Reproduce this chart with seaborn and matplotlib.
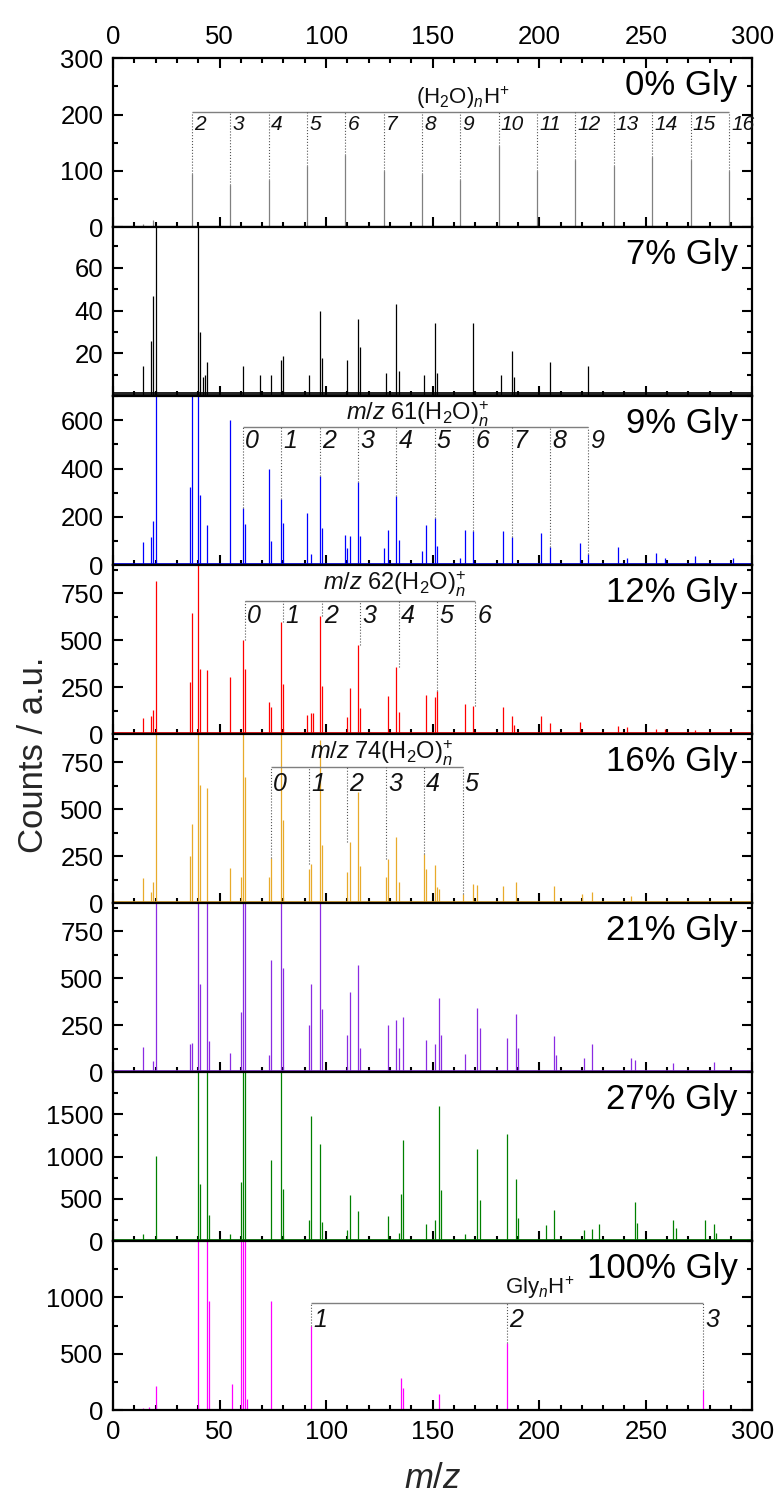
import matplotlib
matplotlib.use("Agg")
import matplotlib.pyplot as plt
import seaborn as sns
from matplotlib.ticker import MultipleLocator

sns.set_theme(style="ticks")
plt.rcParams['font.family'] = ['Liberation Sans', 'DejaVu Sans']
plt.rcParams['mathtext.fontset'] = 'custom'
plt.rcParams['mathtext.rm'] = 'Liberation Sans'
plt.rcParams['mathtext.it'] = 'Liberation Sans:italic'
plt.rcParams['mathtext.bf'] = 'Liberation Sans:bold'

# peak lists (m/z, counts)
gly0_mz = [14, 19, 37, 55, 73, 91, 109, 127, 145, 163, 181, 199, 217, 235, 253, 271, 289]
gly0_counts = [5, 13, 95, 75, 84, 108, 129, 99, 95, 83, 145, 99, 120, 109, 125, 120, 99]

gly7_mz = [14, 18, 19, 20, 40, 41, 42, 43, 44, 61, 69, 74, 79, 80, 92, 97, 98, 110, 115, 116,
           128, 133, 134, 146, 151, 152, 169, 182, 187, 188, 205, 223]
gly7_counts = [14, 26, 47, 85, 85, 30, 9, 10, 16, 14, 10, 10, 17, 19, 10, 40, 18, 17, 36, 23,
               11, 43, 12, 10, 34, 11, 34, 10, 21, 9, 16, 14]

gly9_mz = [14, 18, 19, 20, 36, 37, 40, 41, 44, 55, 61, 62, 73, 74, 79, 80, 91, 93, 97, 98,
           109, 110, 111, 115, 116, 127, 129, 133, 134, 145, 147, 151, 152, 163, 165, 169,
           183, 187, 201, 205, 219, 223, 237, 241, 255, 259, 273, 291]
gly9_counts = [95, 115, 185, 760, 325, 720, 720, 290, 165, 600, 235, 170, 400, 100, 275, 175,
               215, 45, 370, 155, 125, 70, 120, 345, 120, 72, 145, 285, 105, 60, 165, 195, 80,
               30, 145, 140, 140, 115, 135, 75, 93, 45, 76, 30, 50, 30, 40, 30]

gly12_mz = [14, 18, 19, 20, 36, 37, 40, 41, 44, 55, 61, 62, 73, 74, 79, 80, 91, 93, 94, 97, 98,
            110, 111, 115, 116, 129, 133, 134, 147, 151, 152, 165, 169, 183, 187, 188, 201, 205,
            219, 237, 241, 255, 259, 273]
gly12_counts = [84, 96, 128, 815, 280, 646, 950, 345, 340, 302, 503, 346, 170, 143, 598, 268,
                100, 115, 115, 628, 254, 93, 245, 473, 137, 203, 360, 120, 209, 200, 230, 159,
                150, 143, 98, 50, 98, 57, 66, 43, 40, 30, 30, 20]

gly16_mz = [14, 18, 19, 20, 36, 37, 40, 41, 44, 55, 60, 61, 62, 73, 74, 79, 80, 92, 93, 97, 98,
            110, 111, 115, 116, 128, 129, 133, 134, 146, 147, 151, 152, 153, 164, 169, 171, 183,
            189, 207, 220, 225, 243]
gly16_counts = [132, 60, 110, 950, 253, 423, 950, 630, 614, 186, 137, 950, 673, 137, 241, 950,
                441, 182, 209, 870, 307, 164, 325, 593, 200, 137, 236, 352, 110, 262, 180, 204,
                84, 75, 48, 100, 96, 89, 110, 92, 48, 57, 40]

gly21_mz = [14, 19, 20, 36, 37, 40, 41, 44, 45, 55, 60, 61, 62, 73, 74, 79, 80, 92, 93, 97, 98,
            110, 111, 115, 116, 129, 133, 134, 136, 147, 151, 153, 154, 165, 171, 172, 185, 189,
            190, 207, 208, 221, 225, 243, 245, 263, 282]
gly21_counts = [132, 60, 950, 150, 155, 950, 468, 950, 164, 102, 321, 950, 950, 89, 598, 950,
                557, 253, 468, 950, 334, 200, 427, 571, 130, 250, 280, 130, 296, 173, 150, 393,
                200, 96, 343, 236, 179, 312, 130, 191, 90, 75, 152, 75, 66, 50, 52]

gly27_mz = [14, 20, 40, 41, 44, 45, 55, 60, 61, 62, 74, 79, 80, 92, 93, 97, 98, 110, 111, 115,
            129, 134, 135, 136, 147, 151, 153, 154, 165, 171, 172, 185, 189, 190, 203, 207, 221,
            225, 228, 245, 246, 263, 264, 278, 282, 283, 300]
gly27_counts = [87, 1010, 2100, 680, 2100, 305, 87, 700, 2100, 2100, 960, 2100, 620, 246, 1476,
                1151, 226, 130, 540, 353, 294, 100, 563, 1198, 198, 246, 1595, 603, 87, 1091,
                484, 1270, 738, 270, 186, 373, 127, 147, 198, 464, 210, 246, 150, 246, 198, 100, 87]

gly100_mz = [14, 17, 20, 40, 44, 45, 56, 60, 61, 62, 63, 74, 93, 135, 136, 153, 185, 277]
gly100_counts = [15, 30, 217, 1600, 1600, 967, 230, 1600, 1600, 1600, 100, 970, 745, 283, 195,
                 146, 595, 175]

labels = ['0% Gly', '7% Gly', '9% Gly', '12% Gly', '16% Gly', '21% Gly', '27% Gly', '100% Gly']
colors = ['#808080', '#000000', '#0000FF', '#FF0000', '#E8AA2A', '#8A2BE2', '#008000', '#FF00FF']
noise = [2, 2.2, 9, 11, 11, 11, 20, 9]
ylims = [300, 79, 700, 900, 900, 900, 2000, 1500]
yticks = [[0, 100, 200, 300], [20, 40, 60], [0, 200, 400, 600], [0, 250, 500, 750],
          [0, 250, 500, 750], [0, 250, 500, 750], [0, 500, 1000, 1500], [0, 500, 1000]]
yminor = [50, 10, 100, 125, 125, 125, 250, 250]

spectra = [(gly0_mz, gly0_counts), (gly7_mz, gly7_counts), (gly9_mz, gly9_counts),
           (gly12_mz, gly12_counts), (gly16_mz, gly16_counts), (gly21_mz, gly21_counts),
           (gly27_mz, gly27_counts), (gly100_mz, gly100_counts)]

# cluster series markers: panel index -> positions, numbers, bar y, number y, title, title xy
water_pos = [37, 55, 73, 91, 109, 127, 145, 163, 181, 199, 217, 235, 253, 271, 289]
water_n = list(range(2, 17))
s61_pos = [61, 79, 97, 115, 133, 151, 169, 187, 205, 223]
s62_pos = [62, 80, 98, 116, 134, 152, 170]
s74_pos = [74, 92, 110, 128, 146, 164]
glyn_pos = [93, 185, 277]

series = {
    0: dict(pos=water_pos, n=water_n, bar=205, num=183, fs=15, tfs=16,
            title=r'(H$_2$O)$_{\mathit{n}}$H$^{+}$', tx=164, ty=230),
    2: dict(pos=s61_pos, n=list(range(10)), bar=572, num=516, fs=18, tfs=17,
            title=r'$\mathit{m/z}$ 61(H$_2$O)$_{\mathit{n}}^{+}$', tx=143, ty=625),
    3: dict(pos=s62_pos, n=list(range(7)), bar=709, num=628, fs=18, tfs=17,
            title=r'$\mathit{m/z}$ 62(H$_2$O)$_{\mathit{n}}^{+}$', tx=132, ty=800),
    4: dict(pos=s74_pos, n=list(range(6)), bar=723, num=637, fs=18, tfs=17,
            title=r'$\mathit{m/z}$ 74(H$_2$O)$_{\mathit{n}}^{+}$', tx=126, ty=800),
    7: dict(pos=glyn_pos, n=[1, 2, 3], bar=946, num=795, fs=18, tfs=16,
            title=r'Gly$_{\mathit{n}}$H$^{+}$', tx=200, ty=1086),
}

fig, axes = plt.subplots(8, 1, sharex=True, figsize=(7.74, 14.94), dpi=100,
                         gridspec_kw=dict(hspace=0))
fig.subplots_adjust(left=0.146, right=0.972, top=0.961, bottom=0.0562)

for i, ax in enumerate(axes):
    mz, counts = spectra[i]
    c = colors[i]
    ax.axhspan(0, noise[i], color=c, lw=0, alpha=0.85, zorder=1)
    ax.vlines(mz, 0, counts, color=c, lw=0.9, zorder=2)
    ax.set_xlim(0, 300)
    ax.set_ylim(0, ylims[i])
    ax.set_yticks(yticks[i])
    ax.yaxis.set_minor_locator(MultipleLocator(yminor[i]))
    ax.xaxis.set_major_locator(MultipleLocator(50))
    ax.xaxis.set_minor_locator(MultipleLocator(10))
    ax.tick_params(which='both', direction='in', left=True, right=True, bottom=True,
                   top=(i == 0), labeltop=(i == 0), labelbottom=(i == 7),
                   labelsize=18.5, pad=7, width=1.5, color='black', labelcolor='black')
    ax.tick_params(which='major', length=7)
    ax.tick_params(which='minor', length=3.5)
    for sp in ax.spines.values():
        sp.set_linewidth(1.6)
        sp.set_color('black')
    ax.text(0.977, 0.84, labels[i], transform=ax.transAxes, ha='right', va='center',
            fontsize=25, color='black')

    if i in series:
        s = series[i]
        ax.hlines(s['bar'], s['pos'][0], s['pos'][-1], color='#7f7f7f', lw=1.0, zorder=3)
        for p, n in zip(s['pos'], s['n']):
            near = [h for m, h in zip(mz, counts) if abs(m - p) <= 1]
            top = max(near) if near else 0
            ax.vlines(p, top, s['bar'], color='#555555', lw=0.8, linestyles=':', zorder=3)
            ax.text(p + 1, s['num'], str(n), ha='left', va='center', fontsize=s['fs'],
                    style='italic', color='#111111')
        ax.text(s['tx'], s['ty'], s['title'], ha='center', va='center', fontsize=s['tfs'],
                color='#111111')

fig.text(0.043, 0.495, 'Counts / a.u.', rotation=90, ha='center', va='center', fontsize=25)
fig.text(0.559, 0.0105, r'$\mathit{m/z}$', ha='center', va='center', fontsize=25)

fig.savefig('out.png', dpi=100)
